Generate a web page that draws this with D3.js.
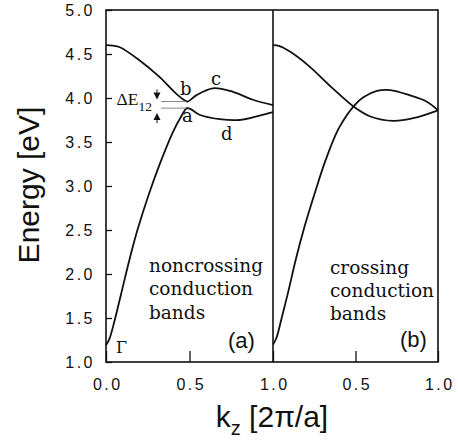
<!DOCTYPE html>
<html>
<head>
<meta charset="utf-8">
<script src="https://cdn.jsdelivr.net/npm/d3@7"></script>
<style>
  html, body { margin: 0; padding: 0; background: #fff; }
  svg { display: block; }
</style>
</head>
<body>
<svg id="chart" width="458" height="444"></svg>
<script>
// Conduction-band dispersion along k_z, two panels sharing one energy axis.

// Energy axis ticks [eV]
const energyTicks = [1.0, 1.5, 2.0, 2.5, 3.0, 3.5, 4.0, 4.5, 5.0];
// k_z ticks [2π/a]
const kTicksA = [0.0, 0.5, 1.0];
const kTicksB = [0.5, 1.0];

// Panel (a): noncrossing conduction bands
const kUpperA = [0, 0.04, 0.08, 0.20, 0.32, 0.42, 0.47, 0.49, 0.54, 0.64, 0.76, 0.88, 1.0];
const eUpperA = [4.60, 4.595, 4.58, 4.43, 4.24, 4.05, 3.975, 3.96, 4.03, 4.11, 4.07, 3.98, 3.92];
const kLowerA = [0, 0.02, 0.05, 0.09, 0.14, 0.19, 0.25, 0.32, 0.40, 0.45, 0.485, 0.51, 0.56, 0.68, 0.80, 0.92, 1.0];
const eLowerA = [1.19, 1.26, 1.46, 1.77, 2.16, 2.51, 2.87, 3.24, 3.61, 3.79, 3.885, 3.87, 3.81, 3.76, 3.75, 3.80, 3.84];

// Panel (b): crossing conduction bands
const kUpperB = [0, 0.04, 0.10, 0.22, 0.35, 0.49, 0.59, 0.73, 0.85, 1.0];
const eUpperB = [4.60, 4.59, 4.53, 4.36, 4.13, 3.90, 3.79, 3.74, 3.77, 3.86];
const kLowerB = [0, 0.02, 0.05, 0.09, 0.14, 0.19, 0.25, 0.32, 0.40, 0.495, 0.55, 0.63, 0.71, 0.83, 0.93, 1.0];
const eLowerB = [1.20, 1.27, 1.48, 1.78, 2.18, 2.53, 2.90, 3.30, 3.66, 3.92, 4.01, 4.08, 4.09, 4.03, 3.96, 3.86];

// Anticrossing gap ΔE12 in panel (a): band b minimum and band a maximum
const gapTop = 3.96;
const gapBottom = 3.885;
const gapK = [0.33, 0.48];

const svg = d3.select("#chart");
const black = "#111";
const sans = "'Liberation Sans', Arial, Helvetica, sans-serif";
const serif = "'DejaVu Serif', 'Liberation Serif', serif";

const y = d3.scaleLinear().domain([1, 5]).range([362, 10]);
const xa = d3.scaleLinear().domain([0, 1]).range([106, 273]);
const xb = d3.scaleLinear().domain([0, 1]).range([273, 438]);

// Frame and panel divider
svg.append("rect")
  .attr("x", xa(0)).attr("y", y(5))
  .attr("width", xb(1) - xa(0)).attr("height", y(1) - y(5))
  .attr("fill", "none").attr("stroke", black).attr("stroke-width", 1.6);
svg.append("line")
  .attr("x1", xa(1)).attr("x2", xa(1)).attr("y1", y(5)).attr("y2", y(1))
  .attr("stroke", black).attr("stroke-width", 1.6);

// Energy axis
const yAxis = svg.append("g")
  .attr("transform", `translate(${xa(0)},0)`)
  .call(d3.axisLeft(y).tickValues(energyTicks).tickFormat(d3.format(".1f"))
    .tickSizeInner(-6).tickSizeOuter(0).tickPadding(11));

// k_z axes
const xAxisA = svg.append("g")
  .attr("transform", `translate(0,${y(1)})`)
  .call(d3.axisBottom(xa).tickValues(kTicksA).tickFormat(d3.format(".1f"))
    .tickSizeInner(-11).tickSizeOuter(0).tickPadding(16.5));
const xAxisB = svg.append("g")
  .attr("transform", `translate(0,${y(1)})`)
  .call(d3.axisBottom(xb).tickValues(kTicksB).tickFormat(d3.format(".1f"))
    .tickSizeInner(-11).tickSizeOuter(0).tickPadding(16.5));

[yAxis, xAxisA, xAxisB].forEach(g => {
  g.select(".domain").remove();
  g.selectAll(".tick line").attr("stroke", black).attr("stroke-width", 1.3);
  g.selectAll(".tick text")
    .attr("fill", black)
    .style("font-family", sans)
    .style("font-size", "16px")
    .style("letter-spacing", "2.5px");
});
xAxisA.selectAll(".tick text").attr("dx", "1.25");
xAxisB.selectAll(".tick text").attr("dx", "1.25");

// Band curves
function band(xs, ks, es) {
  const pts = ks.map((k, i) => [k, es[i]]);
  svg.append("path")
    .datum(pts)
    .attr("fill", "none")
    .attr("stroke", black)
    .attr("stroke-width", 1.8)
    .attr("d", d3.line().x(d => xs(d[0])).y(d => y(d[1])).curve(d3.curveCatmullRom.alpha(0.5)));
}
band(xa, kUpperA, eUpperA);
band(xa, kLowerA, eLowerA);
band(xb, kUpperB, eUpperB);
band(xb, kLowerB, eLowerB);

// Gap reference lines
[gapTop, gapBottom].forEach(e => {
  svg.append("line")
    .attr("x1", xa(gapK[0])).attr("x2", xa(gapK[1]))
    .attr("y1", y(e)).attr("y2", y(e))
    .attr("stroke", "#888").attr("stroke-width", 1);
});

// ΔE12 arrows
const ax = 157;
svg.append("path")
  .attr("d", `M${ax - 3.5},${y(gapTop) - 9} L${ax + 3.5},${y(gapTop) - 9} L${ax},${y(gapTop) - 2} Z`)
  .attr("fill", black);
svg.append("line").attr("x1", ax).attr("x2", ax)
  .attr("y1", y(gapTop) - 12).attr("y2", y(gapTop) - 9)
  .attr("stroke", black).attr("stroke-width", 1);
svg.append("path")
  .attr("d", `M${ax - 3.5},${y(gapBottom) + 12} L${ax + 3.5},${y(gapBottom) + 12} L${ax},${y(gapBottom) + 5} Z`)
  .attr("fill", black);
svg.append("line").attr("x1", ax).attr("x2", ax)
  .attr("y1", y(gapBottom) + 12).attr("y2", y(gapBottom) + 15)
  .attr("stroke", black).attr("stroke-width", 1);

const dE = svg.append("text")
  .attr("x", 116.5).attr("y", 105)
  .attr("fill", black)
  .style("font-family", "'Liberation Serif', 'Times New Roman', serif")
  .style("font-size", "17.5px");
dE.append("tspan").text("ΔE");
dE.append("tspan").attr("dy", 6).style("font-size", "13.5px").text("12");

// Band labels
function label(txt, x, yy, size, family) {
  svg.append("text")
    .attr("x", x).attr("y", yy)
    .attr("fill", black)
    .style("font-family", family || serif)
    .style("font-size", size + "px")
    .text(txt);
}
label("b", 180, 95, 18);
label("c", 211, 85, 18);
label("a", 182, 121.5, 18);
label("d", 221, 140, 18);
label("Γ", 116, 353, 16);

label("noncrossing", 149, 272, 18.5);
label("conduction", 149, 295, 18.5);
label("bands", 149, 318.5, 18.5);
label("crossing", 330, 274, 18.5);
label("conduction", 330, 297, 18.5);
label("bands", 330, 320, 18.5);

label("(a)", 228, 348, 22, sans);
label("(b)", 400, 347, 22, sans);

// Axis titles
svg.append("text")
  .attr("transform", "translate(39,185) rotate(-90)")
  .attr("text-anchor", "middle")
  .attr("fill", black)
  .style("font-family", sans)
  .style("font-size", "30px")
  .text("Energy [eV]");

const xt = svg.append("text")
  .attr("x", 272).attr("y", 427)
  .attr("text-anchor", "middle")
  .attr("fill", black)
  .style("font-family", sans)
  .style("font-size", "30px");
xt.append("tspan").text("k");
xt.append("tspan").attr("dy", 8).style("font-size", "20px").text("z");
xt.append("tspan").attr("dy", -8).text(" [2π/a]");
</script>
</body>
</html>
